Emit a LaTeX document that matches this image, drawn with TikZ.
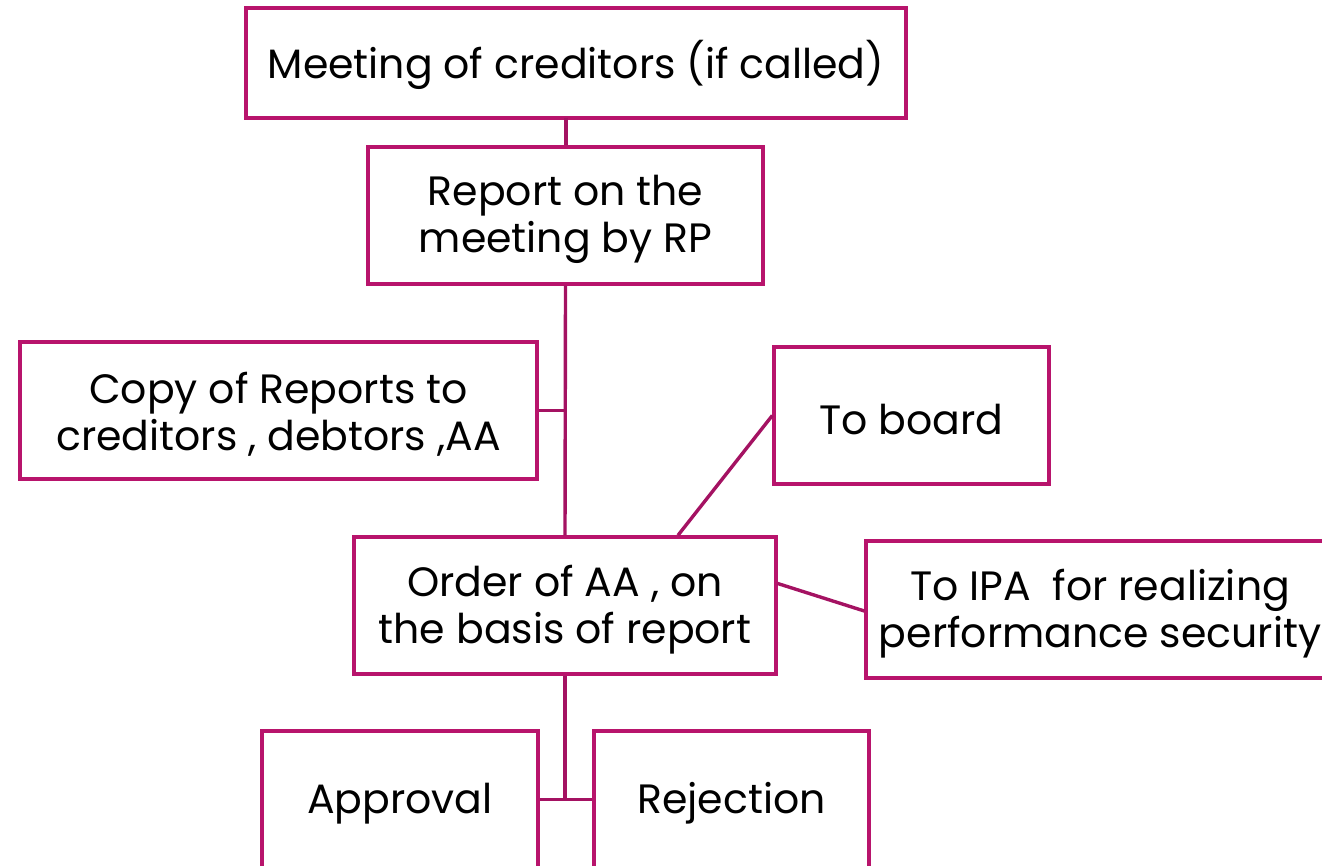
\documentclass[tikz,border=0pt]{standalone}
\usepackage{fontspec}
\setmainfont{Poppins}
\definecolor{boxc}{RGB}{184,20,108}
\definecolor{linec}{RGB}{164,18,98}
\begin{document}
\begin{tikzpicture}[x=1pt,y=-1pt,
  box/.style={draw=boxc,line width=3.4pt,fill=white,inner sep=0pt},
  txt/.style={align=center,inner sep=0pt,font=\fontsize{41}{47}\selectfont,yshift=-4pt},
  conn/.style={draw=linec,line width=3.4pt}]
\useasboundingbox (0,0) rectangle (1322,866);
\clip (0,0) rectangle (1322,866);
\coordinate (c1) at (566,118);
\node[box,minimum width=660pt,minimum height=110pt,label={[txt,yshift=2pt]center:{Meeting of creditors (if called)}}] (b1) at (576,63) {};
\node[box,minimum width=395pt,minimum height=137pt,label={[txt]center:{Report on the\\meeting by RP}}] (b2) at (565.5,215.5) {};
\node[box,minimum width=517pt,minimum height=137pt,label={[txt]center:{Copy of Reports to\\creditors , debtors ,AA}}] (b3) at (278.5,410.5) {};
\node[box,minimum width=275pt,minimum height=137pt,label={[txt]center:{To board}}] (b4) at (911.5,415.5) {};
\node[box,minimum width=422pt,minimum height=137pt,label={[txt]center:{Order of AA , on\\the basis of report}}] (b5) at (565,605.5) {};
\node[box,minimum width=468pt,minimum height=137pt,label={[txt]center:{To IPA\ \ for realizing\\performance security}}] (b6) at (1100,609.5) {};
\node[box,minimum width=276pt,minimum height=137pt,label={[txt]center:{Approval}}] (b7) at (400,799.5) {};
\node[box,minimum width=275pt,minimum height=137pt,label={[txt]center:{Rejection}}] (b8) at (731.5,799.5) {};
\draw[conn] (c1) -- (c1 |- b2.north);
\draw[conn] (b2.south) -- (b5.north);
\draw[conn] (b3.east) -- (b3.east -| b2.south);
\draw[conn] ([xshift=113pt]b5.north) -- (b4.west);
\draw[conn] ([yshift=22pt]b5.east) -- ([yshift=-1.5pt]b6.west);
\draw[conn] (b5.south) -- (b5.south |- b7.east);
\draw[conn] (b7.east) -- (b8.west);
\end{tikzpicture}
\end{document}
